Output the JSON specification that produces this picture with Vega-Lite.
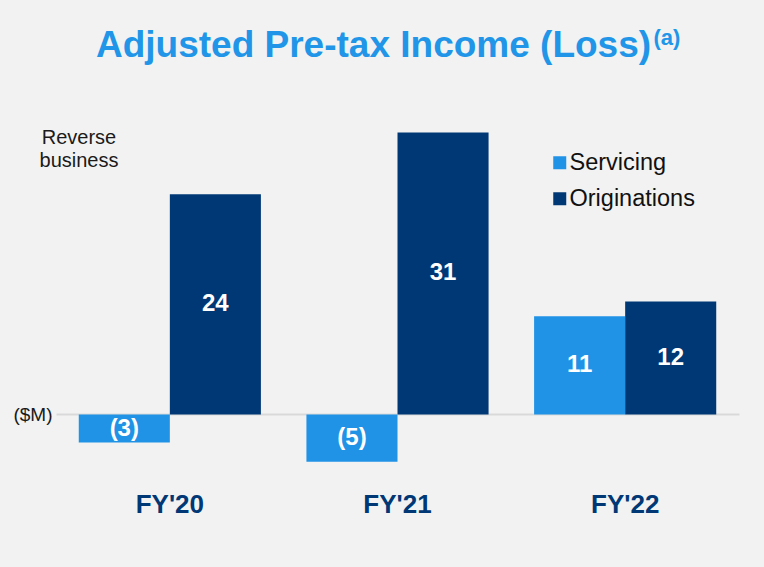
{
  "$schema": "https://vega.github.io/schema/vega-lite/v6.json",
  "autosize": {"type": "none"},
  "width": 683,
  "height": 373,
  "padding": {"left": 56, "top": 96, "right": 25, "bottom": 98},
  "background": "#f2f2f2",
  "title": {
    "text": "Adjusted Pre-tax Income (Loss)",
    "font": "Liberation Sans",
    "fontSize": 37,
    "fontWeight": "bold",
    "color": "#2196E8",
    "anchor": "middle",
    "frame": "group",
    "baseline": "alphabetic",
    "offset": -68,
    "dx": -24
  },
  "data": {
    "values": [
      {"year": "FY'20", "segment": "Servicing", "value": -3.1},
      {"year": "FY'20", "segment": "Originations", "value": 24.2},
      {"year": "FY'21", "segment": "Servicing", "value": -5.2},
      {"year": "FY'21", "segment": "Originations", "value": 31.0},
      {"year": "FY'22", "segment": "Servicing", "value": 10.8},
      {"year": "FY'22", "segment": "Originations", "value": 12.4}
    ]
  },
  "encoding": {
    "xOffset": {
      "field": "segment",
      "type": "nominal",
      "sort": ["Servicing", "Originations"],
      "scale": {"paddingInner": 0, "paddingOuter": 0}
    }
  },
  "layer": [
    {
      "mark": {"type": "bar"},
      "encoding": {
        "x": {
          "field": "year",
          "type": "nominal",
          "sort": null,
          "scale": {"paddingInner": 0.2, "paddingOuter": 0.1},
          "axis": {
            "title": null,
            "orient": "bottom",
            "domain": false,
            "ticks": false,
            "labelAngle": 0,
            "labelFont": "Liberation Sans",
            "labelFontSize": 26,
            "labelFontWeight": "bold",
            "labelColor": "#003876",
            "labelBaseline": "alphabetic",
            "labelPadding": 43
          }
        },
        "y": {
          "field": "value",
          "type": "quantitative",
          "scale": {"domain": [-6, 35], "nice": false, "zero": true},
          "axis": {
            "values": [0],
            "labelExpr": "'($M)'",
            "grid": true,
            "gridColor": "#d9d9d9",
            "gridWidth": 2,
            "domain": false,
            "ticks": false,
            "labelFont": "Liberation Sans",
            "labelFontSize": 19,
            "labelColor": "#1a1a1a",
            "labelPadding": 4,
            "title": ["Reverse", "business"],
            "titleAngle": 0,
            "titleX": 22.5,
            "titleY": 47,
            "titleAlign": "center",
            "titleBaseline": "alphabetic",
            "titleFont": "Liberation Sans",
            "titleFontSize": 20,
            "titleFontWeight": "normal",
            "titleColor": "#1a1a1a",
            "titleLineHeight": 23
          }
        },
        "color": {
          "field": "segment",
          "type": "nominal",
          "sort": ["Servicing", "Originations"],
          "scale": {"domain": ["Servicing", "Originations"], "range": ["#2093E6", "#003876"]},
          "legend": {
            "title": null,
            "orient": "none",
            "legendX": 492,
            "legendY": 55,
            "symbolType": "square",
            "symbolSize": 169,
            "symbolStrokeWidth": 0,
            "symbolOpacity": 1,
            "labelFont": "Liberation Sans",
            "labelFontSize": 23.5,
            "labelColor": "#111111",
            "labelOffset": -2,
            "rowPadding": 11
          }
        }
      }
    },
    {
      "mark": {
        "type": "text",
        "font": "Liberation Sans",
        "fontSize": 24,
        "fontWeight": "bold",
        "color": "white",
        "baseline": "middle",
        "align": "center"
      },
      "encoding": {
        "x": {
          "field": "year",
          "type": "nominal",
          "sort": null,
          "axis": {
            "orient": "top",
            "labels": false,
            "domain": false,
            "ticks": false,
            "grid": false,
            "title": "(a)",
            "titleX": 597,
            "titleY": -52,
            "titleAlign": "left",
            "titleBaseline": "alphabetic",
            "titleFont": "Liberation Sans",
            "titleFontSize": 22,
            "titleFontWeight": "bold",
            "titleColor": "#2196E8"
          }
        },
        "y": {
          "field": "value",
          "type": "quantitative",
          "scale": {"domain": [-12, 70], "nice": false, "zero": true},
          "axis": null
        },
        "text": {"field": "value", "type": "quantitative", "format": "(.0f"}
      }
    }
  ],
  "resolve": {"scale": {"y": "independent"}, "axis": {"x": "independent"}},
  "config": {
    "font": "Liberation Sans",
    "view": {"stroke": null}
  }
}
